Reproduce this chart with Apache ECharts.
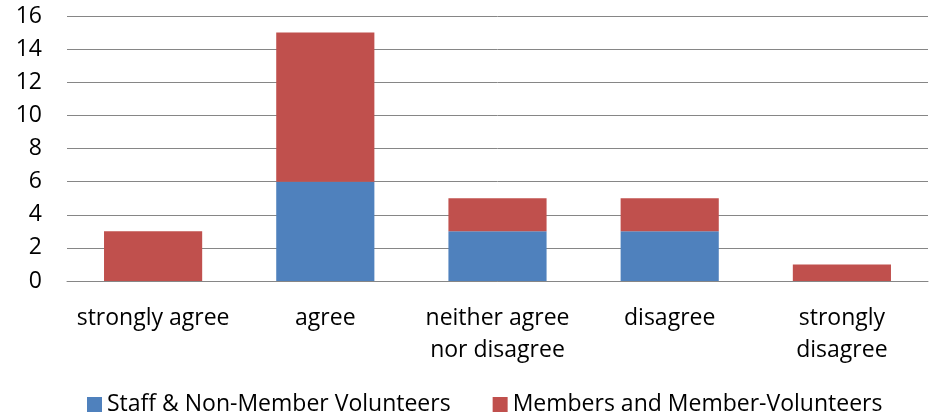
<!DOCTYPE html>
<html><head><meta charset="utf-8">
<script src="https://cdn.jsdelivr.net/npm/echarts@6/dist/echarts.min.js"></script>
<style>html,body{margin:0;padding:0;background:#fff}#c{width:933px;height:414px}</style>
</head><body><div id="c"></div>
<script>
const categories = ["strongly agree", "agree", "neither agree\nnor disagree", "disagree", "strongly\ndisagree"];
const staffValues = [0, 6, 3, 3, 0];
const memberValues = [3, 9, 2, 2, 1];
const seriesNames = ["Staff & Non-Member Volunteers", "Members and Member-Volunteers"];
const yTicks = [0, 2, 4, 6, 8, 10, 12, 14, 16];

const font = "'Open Sans', sans-serif";
const fs = 23;
const chart = echarts.init(document.getElementById('c'), null, {renderer: 'canvas'});
chart.setOption({
  animation: false,
  textStyle: {fontFamily: font},
  grid: {left: 67, right: 5, top: 16, bottom: 133, containLabel: false},
  legend: {
    left: 82, top: 388,
    itemWidth: 15, itemHeight: 15, itemGap: 42,
    icon: 'rect',
    textStyle: {fontSize: fs, color: '#000', fontFamily: font},
    data: seriesNames
  },
  xAxis: {
    type: 'category', data: categories,
    axisLine: {lineStyle: {color: '#868686', width: 1}},
    axisTick: {show: false},
    axisLabel: {fontSize: fs, color: '#000', margin: 21, lineHeight: 32, interval: 0, fontFamily: font}
  },
  yAxis: {
    type: 'value', min: yTicks[0], max: yTicks[yTicks.length-1], interval: 2,
    axisLine: {show: false}, axisTick: {show: false},
    splitLine: {lineStyle: {color: '#868686', width: 1}},
    axisLabel: {fontSize: fs, color: '#000', margin: 25, fontFamily: font}
  },
  series: [
    {name: seriesNames[0], type: 'bar', stack: 's', data: staffValues, barWidth: '57%', itemStyle: {color: '#4F81BD'}},
    {name: seriesNames[1], type: 'bar', stack: 's', data: memberValues, barWidth: '57%', itemStyle: {color: '#C0504D'}}
  ]
});
</script></body></html>
